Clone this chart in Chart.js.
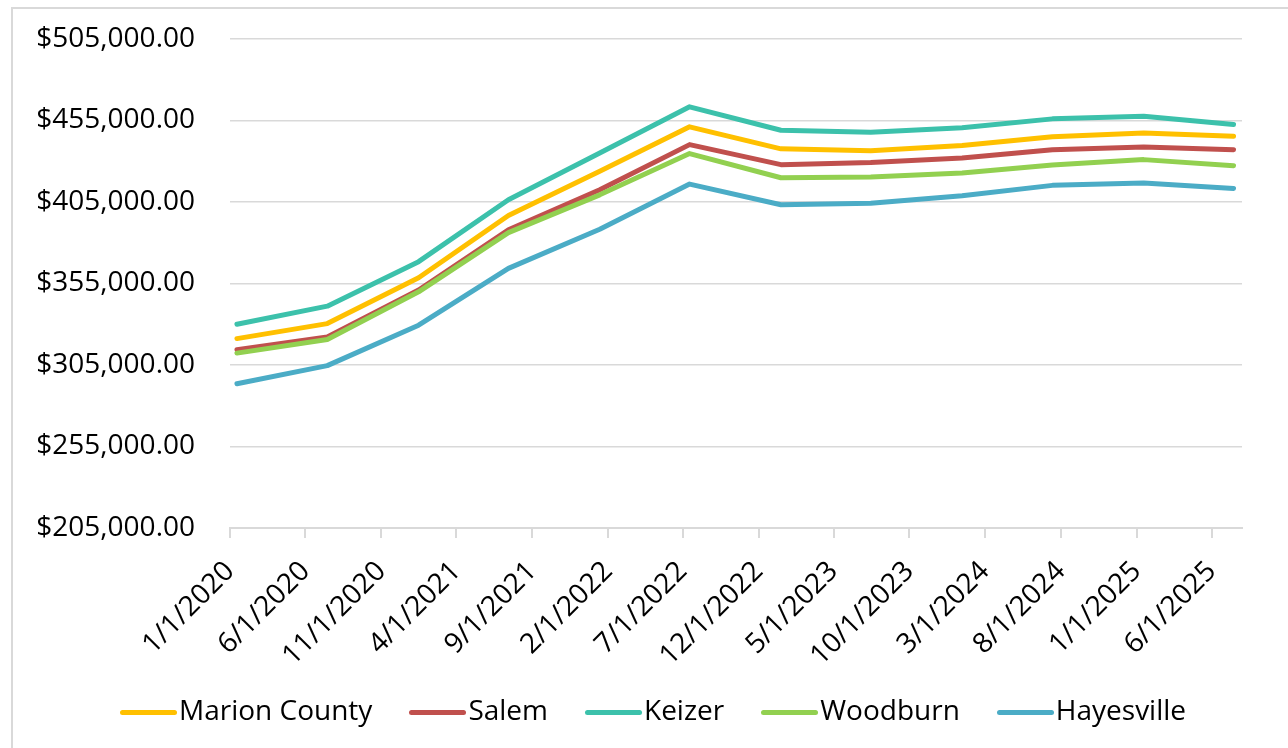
<!DOCTYPE html>
<html>
<head>
<meta charset="utf-8">
<title>Marion County home values</title>
<script src="https://cdn.jsdelivr.net/npm/chart.js@4.4.1/dist/chart.umd.min.js"></script>
<style>
  html, body { margin: 0; padding: 0; background: #fff; overflow: hidden; }
  #wrap { position: relative; width: 1288px; height: 748px; overflow: hidden; }
  #frame {
    position: absolute; left: 11px; top: 7px; width: 1300px; height: 780px;
    border: 2px solid #d9d9d9; box-sizing: border-box;
  }
  #chart { position: absolute; left: 0; top: 0; }
  #legend {
    position: absolute; left: 120px; top: 690px;
    display: flex; align-items: flex-start; white-space: nowrap;
    font: 28px 'Open Sans', sans-serif; color: #000; line-height: 38px;
  }
  .item { display: flex; align-items: flex-start; margin-right: 37px; }
  .item:last-child { margin-right: 0; }
  .swatch { width: 57px; height: 5px; border-radius: 3px; margin-top: 20px; margin-right: 2px; }
</style>
</head>
<body>
<div id="wrap">
  <div id="frame"></div>
  <canvas id="chart" width="1288" height="748"></canvas>
  <div id="legend"></div>
</div>
<script>
/* --- dados --- */

const xLabels = ['1/1/2020', '6/1/2020', '11/1/2020', '4/1/2021', '9/1/2021', '2/1/2022', '7/1/2022',
  '12/1/2022', '5/1/2023', '10/1/2023', '3/1/2024', '8/1/2024', '1/1/2025', '6/1/2025'];
const xStart = '1/1/2020';
const xEnd = '8/1/2025';

const pointDates = ['1/15/2020', '7/15/2020', '1/15/2021', '7/15/2021', '1/15/2022', '7/15/2022',
  '1/15/2023', '7/15/2023', '1/15/2024', '7/15/2024', '1/15/2025', '7/15/2025'];

const seriesNames = ['Marion County', 'Salem', 'Keizer', 'Woodburn', 'Hayesville'];
const seriesColors = ['#FFC000', '#C0504D', '#3CC1AB', '#92D050', '#4BACC6'];

const marionCounty = [321200, 330400, 358500, 396700, 423800, 451100, 437600, 436500, 439600, 445000, 447400, 445300];
const salem        = [314400, 322200, 351000, 387900, 412500, 440200, 427900, 429300, 432000, 437100, 438800, 437100];
const keizer       = [330000, 341100, 368400, 406400, 435100, 463400, 449000, 447800, 450500, 456000, 457650, 452500];
const woodburn     = [312300, 320600, 349900, 386200, 409400, 434700, 419900, 420300, 422800, 427700, 431000, 427300];
const hayesville   = [293500, 304600, 329400, 364300, 388300, 416000, 403300, 404300, 408800, 415200, 416600, 413300];

const yTicks = [205000, 255000, 305000, 355000, 405000, 455000, 505000];

(function () {
  'use strict';

  /* dias desde o início do eixo, a partir de "m/d/aaaa" */
  function dias(str) {
    const [m, d, a] = str.split('/').map(Number);
    const [m0, d0, a0] = xStart.split('/').map(Number);
    return (Date.UTC(a, m - 1, d) - Date.UTC(a0, m0 - 1, d0)) / 86400000;
  }

  const valores = [marionCounty, salem, keizer, woodburn, hayesville];
  const fonte = { family: "'Open Sans', sans-serif", size: 28 };

  const datasets = seriesNames.map((nome, i) => ({
    label: nome,
    data: valores[i].map((v, j) => ({ x: dias(pointDates[j]), y: v })),
    borderColor: seriesColors[i],
    backgroundColor: seriesColors[i],
    borderWidth: 5,
    borderCapStyle: 'round',
    borderJoinStyle: 'round',
    pointRadius: 0,
    tension: 0,
    order: seriesNames.length - i,
  }));

  new Chart(document.getElementById('chart'), {
    type: 'line',
    data: { datasets },
    options: {
      responsive: false,
      animation: false,
      layout: { padding: { top: 39, right: 46, left: 0, bottom: 0 } },
      plugins: { legend: { display: false }, tooltip: { enabled: false } },
      scales: {
        x: {
          type: 'linear',
          min: 0,
          max: dias(xEnd),
          afterBuildTicks: s => { s.ticks = xLabels.map(l => ({ value: dias(l) })); },
          afterFit: s => { s.height = 220; },
          ticks: {
            autoSkip: false, minRotation: 45, maxRotation: 45, padding: 17,
            color: '#000', font: fonte,
            callback: (v, i) => xLabels[i],
          },
          grid: { drawOnChartArea: false, tickLength: 10, color: '#d9d9d9', lineWidth: 2 },
          border: { display: true, color: '#d9d9d9', width: 2 },
        },
        y: {
          min: yTicks[0],
          max: yTicks[yTicks.length - 1],
          afterBuildTicks: s => { s.ticks = yTicks.map(v => ({ value: v })); },
          afterFit: s => { s.width = 230; },
          ticks: {
            padding: 0, color: '#000', font: fonte,
            callback: v => '$' + v.toLocaleString('en-US', { minimumFractionDigits: 2, maximumFractionDigits: 2 }),
          },
          // marca invisível só para afastar os rótulos da área do gráfico
          grid: { drawTicks: true, tickLength: 35, tickColor: 'rgba(0,0,0,0)', color: '#d9d9d9', lineWidth: 1.5 },
          border: { display: false },
        },
      },
    },
  });

  /* --- legenda em HTML --- */
  const legenda = document.getElementById('legend');
  seriesNames.forEach((nome, i) => {
    const item = document.createElement('div');
    item.className = 'item';
    item.innerHTML = '<span class="swatch" style="background:' + seriesColors[i] + '"></span><span>' + nome + '</span>';
    legenda.appendChild(item);
  });
})();
</script>
</body>
</html>
